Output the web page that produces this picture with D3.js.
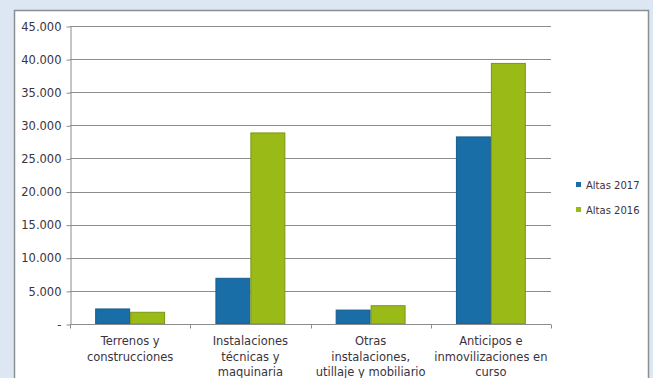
<!DOCTYPE html>
<html>
<head>
<meta charset="utf-8">
<script src="https://cdn.jsdelivr.net/npm/d3@7"></script>
<style>
  html, body { margin: 0; padding: 0; background: #dde7f4; }
  svg { display: block; }
  text { font-family: "DejaVu Sans", Verdana, sans-serif; fill: #3a3340; }
</style>
</head>
<body>
<svg id="chart" width="653" height="378"></svg>
<script>
// Categories (multi-line labels) and series values
const categories = [
  ["Terrenos y", "construcciones"],
  ["Instalaciones", "técnicas y", "maquinaria"],
  ["Otras", "instalaciones,", "utillaje y mobiliario"],
  ["Anticipos e", "inmovilizaciones en", "curso"]
];
const seriesNames = ["Altas 2017", "Altas 2016"];
const altas2017 = [2270, 6900, 2100, 28250];
const altas2016 = [1770, 28850, 2760, 39350];
const yTicks = [0, 5000, 10000, 15000, 20000, 25000, 30000, 35000, 40000, 45000];
const colors = ["#1a6ea8", "#9aba18"];
const strokes = ["#155c8c", "#7a9612"];

const svg = d3.select("#chart");

// White chart panel
svg.append("rect")
  .attr("x", 14.5).attr("y", 10.5)
  .attr("width", 634).attr("height", 380)
  .attr("fill", "#ffffff")
  .attr("stroke", "#8a9090").attr("stroke-width", 1.5);

const plot = { left: 70, right: 551, top: 26, bottom: 324 };

const x = d3.scaleBand()
  .domain(d3.range(categories.length))
  .range([plot.left, plot.right])
  .paddingInner(0).paddingOuter(0);

const sub = d3.scaleBand()
  .domain(d3.range(seriesNames.length))
  .range([0, x.bandwidth()])
  .paddingInner(0).paddingOuter(0.72);

const y = d3.scaleLinear().domain([0, 45000]).range([plot.bottom, plot.top]);

const fmt = v => v === 0 ? "-" : d3.format(",")(v).replace(/,/g, ".");

// Gridlines
svg.append("g")
  .selectAll("line")
  .data(yTicks.filter(d => d > 0))
  .join("line")
  .attr("x1", plot.left).attr("x2", plot.right)
  .attr("y1", d => Math.round(y(d)) + 0.5).attr("y2", d => Math.round(y(d)) + 0.5)
  .attr("stroke", "#8c8c8c").attr("stroke-width", 1);

// Y axis
const yAxis = svg.append("g")
  .attr("transform", `translate(${plot.left + 0.5},0.5)`)
  .call(d3.axisLeft(y).tickValues(yTicks).tickFormat(fmt).tickSize(4).tickSizeOuter(0).tickPadding(5));
yAxis.select(".domain").attr("stroke", "#8c8c8c");
yAxis.selectAll(".tick line").attr("stroke", "#8c8c8c");
yAxis.selectAll(".tick text")
  .style("font-size", "11.5px")
  .style("font-family", "'DejaVu Sans', Verdana, sans-serif")
  .attr("fill", "#3a3340");

// Bars
const series = [altas2017, altas2016];
const groups = svg.append("g")
  .selectAll("g")
  .data(categories.map((c, i) => i))
  .join("g")
  .attr("transform", i => `translate(${x(i)},0)`);

groups.selectAll("rect")
  .data(i => series.map((s, k) => ({ k, v: s[i] })))
  .join("rect")
  .attr("x", d => sub(d.k) + 0.5)
  .attr("y", d => y(d.v))
  .attr("width", sub.bandwidth() - 1)
  .attr("height", d => y(0) - y(d.v))
  .attr("fill", d => colors[d.k])
  .attr("stroke", d => strokes[d.k])
  .attr("stroke-width", 1);

// X axis
const xAxis = svg.append("g")
  .attr("transform", `translate(0,${plot.bottom + 0.5})`);
xAxis.append("line")
  .attr("x1", plot.left).attr("x2", plot.right)
  .attr("stroke", "#8c8c8c");
xAxis.selectAll(".tk")
  .data(d3.range(categories.length + 1))
  .join("line")
  .attr("x1", i => Math.round(plot.left + i * x.bandwidth()) + 0.5)
  .attr("x2", i => Math.round(plot.left + i * x.bandwidth()) + 0.5)
  .attr("y1", 0).attr("y2", 4)
  .attr("stroke", "#8c8c8c");

// Category labels
svg.append("g")
  .selectAll("text")
  .data(categories.map((c, i) => ({ c, i })))
  .join("text")
  .attr("text-anchor", "middle")
  .style("font-size", "11.5px")
  .attr("transform", d => `translate(${x(d.i) + x.bandwidth() / 2},345)`)
  .selectAll("tspan")
  .data(d => d.c)
  .join("tspan")
  .attr("x", 0)
  .attr("y", (t, j) => j * 15.5)
  .text(t => t);

// Legend
const legend = svg.append("g")
  .selectAll("g")
  .data(seriesNames)
  .join("g")
  .attr("transform", (d, i) => `translate(576,${185 + i * 25})`);
legend.append("rect")
  .attr("x", 0).attr("y", -3)
  .attr("width", 5).attr("height", 5)
  .attr("fill", (d, i) => colors[i]);
legend.append("text")
  .attr("x", 10).attr("y", 3.5)
  .style("font-size", "10px")
  .text(d => d);
</script>
</body>
</html>
